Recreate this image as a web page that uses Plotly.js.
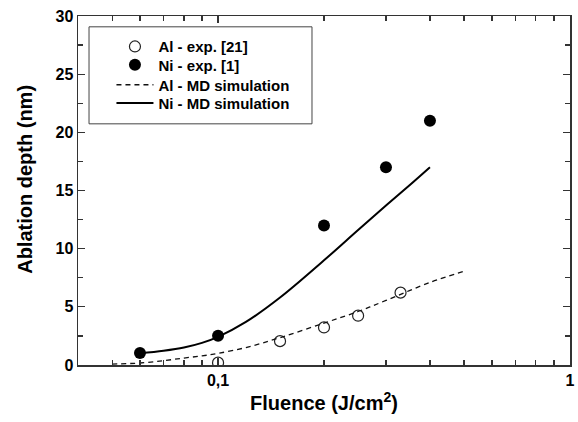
<!DOCTYPE html>
<html>
<head>
<meta charset="utf-8">
<script src="https://cdn.plot.ly/plotly-3.0.1.min.js"></script>
<style>html,body{margin:0;padding:0;background:#fff;}#chart{width:578px;height:422px;}</style>
</head>
<body>
<div id="chart"></div>
<script>
// Experimental data
var alExpFluence = [0.1, 0.15, 0.2, 0.25, 0.33];
var alExpDepth   = [0.2, 2.05, 3.23, 4.24, 6.22];
var niExpFluence = [0.06, 0.1, 0.2, 0.3, 0.4];
var niExpDepth   = [1.03, 2.52, 12.0, 17.0, 21.0];
// MD simulation curves
var alMdFluence = [0.05, 0.06, 0.07, 0.08, 0.09, 0.1, 0.12, 0.15, 0.2, 0.25, 0.3, 0.4, 0.5];
var alMdDepth   = [0.08, 0.17, 0.37, 0.6, 0.78, 1.0, 1.5, 2.35, 3.6, 4.6, 5.55, 7.1, 8.05];
var niMdFluence = [0.06, 0.07, 0.08, 0.09, 0.1, 0.12, 0.15, 0.2, 0.25, 0.3, 0.35, 0.4];
var niMdDepth   = [1.0, 1.22, 1.5, 1.9, 2.42, 3.7, 5.8, 9.0, 11.6, 13.7, 15.45, 17.0];
// Axis ticks
var xTickVals = [0.1, 1];
var xTickText = ['0,1', '1'];
var xMinorVals = [0.05, 0.06, 0.07, 0.08, 0.09, 0.2, 0.3, 0.4, 0.5, 0.6, 0.7, 0.8, 0.9];
var seriesNames = ['Al - exp. [21]', 'Ni - exp. [1]', 'Al - MD simulation', 'Ni - MD simulation'];

var FONT = 'Liberation Sans, Arial, Helvetica, sans-serif';

var traces = [
  {x: alExpFluence, y: alExpDepth, name: seriesNames[0], type: 'scatter', mode: 'markers', legend: 'legend',
   marker: {symbol: 'circle-open', size: 11, color: '#222', line: {width: 1.2, color: '#222'}}},
  {x: niExpFluence, y: niExpDepth, name: seriesNames[1], type: 'scatter', mode: 'markers', legend: 'legend2',
   marker: {symbol: 'circle', size: 12, color: '#000'}},
  {x: alMdFluence, y: alMdDepth, name: seriesNames[2], type: 'scatter', mode: 'lines', legend: 'legend3',
   line: {color: '#111', width: 1.3, dash: '5px,4px', shape: 'spline'}},
  {x: niMdFluence, y: niMdDepth, name: seriesNames[3], type: 'scatter', mode: 'lines', legend: 'legend4',
   line: {color: '#000', width: 2, shape: 'spline'}}
];

function leg(yc) {
  return {x: 0.068, y: yc, xanchor: 'left', yanchor: 'middle', itemwidth: 37,
          bgcolor: 'rgba(0,0,0,0)', borderwidth: 0,
          font: {family: FONT, size: 15, color: '#000', weight: 'bold'}};
}

var layout = {
  width: 578, height: 422,
  margin: {l: 78, r: 8, t: 16, b: 57},
  paper_bgcolor: '#fff', plot_bgcolor: '#fff',
  font: {family: FONT, color: '#000', size: 16},
  showlegend: true,
  legend: leg(0.912),
  legend2: leg(0.8596),
  legend3: leg(0.8023),
  legend4: leg(0.7499),
  xaxis: {
    type: 'log', range: [Math.log10(0.04), 0],
    tickmode: 'array', tickvals: xTickVals, ticktext: xTickText,
    ticks: 'inside', ticklen: 7, tickwidth: 1.2, tickcolor: '#333',
    minor: {tickmode: 'array', tickvals: xMinorVals, ticks: 'inside', ticklen: 5, tickwidth: 1.2, tickcolor: '#333'},
    showline: true, linecolor: '#333', linewidth: 1.5, mirror: 'ticks',
    showgrid: false, zeroline: false,
    tickfont: {family: FONT, size: 16, weight: 'bold'},
    title: {text: 'Fluence (J/cm<sup>2</sup>)', font: {family: FONT, size: 20, weight: 'bold'}, standoff: 8}
  },
  yaxis: {
    range: [0, 30], tickmode: 'linear', tick0: 0, dtick: 5,
    ticks: 'inside', ticklen: 7, tickwidth: 1.2, tickcolor: '#333',
    minor: {dtick: 2.5, ticks: 'inside', ticklen: 5, tickwidth: 1.2, tickcolor: '#333'},
    showline: true, linecolor: '#333', linewidth: 1.5, mirror: 'ticks',
    showgrid: false, zeroline: false,
    tickfont: {family: FONT, size: 16, weight: 'bold'},
    title: {text: '&nbsp;&nbsp;&nbsp;&nbsp;Ablation depth (nm)', font: {family: FONT, size: 20, weight: 'bold'}, standoff: 17}
  },
  shapes: [{type: 'rect', xref: 'paper', yref: 'paper', x0: 0.0224, x1: 0.4756, y0: 0.691, y1: 0.969,
            line: {color: '#444', width: 1}, fillcolor: 'rgba(0,0,0,0)'}]
};

Plotly.newPlot('chart', traces, layout, {displayModeBar: false, staticPlot: true});
</script>
</body>
</html>
